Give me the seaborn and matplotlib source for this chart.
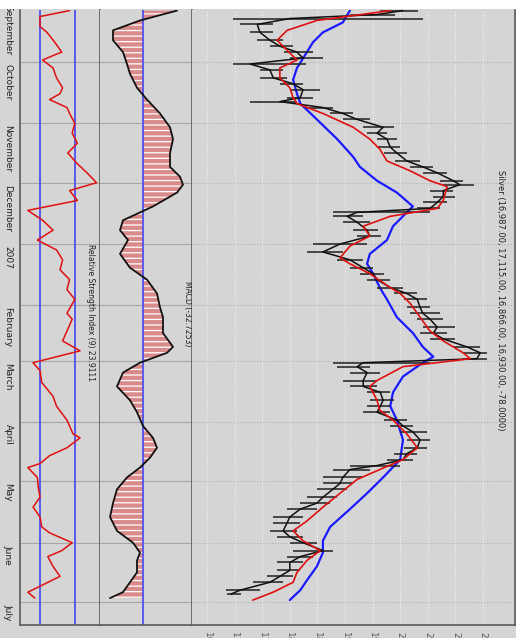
import pandas as pd
import seaborn as sns
import matplotlib.pyplot as plt
import matplotlib.dates as mdates
import matplotlib.transforms as mtransforms
from matplotlib.patches import Rectangle
from matplotlib.ticker import FixedLocator, MultipleLocator, NullFormatter

"""数据：天数 = 2006-09-01 之后的天数"""
START = pd.Timestamp("2006-09-01")

close_day = [4, 6, 8, 11, 15, 19, 22, 25, 28, 31, 34, 38, 41, 44, 48, 50, 53, 56, 59, 63,
             66, 69, 73, 76, 80, 83, 86, 90, 92, 95, 98, 101, 104, 106, 108, 111, 115, 118, 122, 126,
             130, 134, 137, 140, 144, 147, 150, 154, 157, 160, 164, 167, 170, 174, 177, 180, 182, 184, 187, 191,
             194, 197, 201, 204, 207, 211, 214, 217, 221, 225, 228, 231, 234, 236, 240, 243, 246, 250, 253, 256,
             260, 263, 267, 270, 273, 277, 280, 283, 287, 290, 293, 297, 299]
close_val = [20050, 19580, 18000, 17410, 17460, 17640, 17820, 18130, 18240, 17280,
             17640, 17700, 18060, 18240, 18190, 17820, 18600, 18960, 19220, 19690,
             19580, 19760, 19820, 19940, 20120, 20410, 20670, 20960, 21080, 20780,
             20780, 20670, 20540, 19220, 19040, 19220, 19400, 19450, 18910, 18600,
             19090, 19330, 19510, 19580, 19820, 20120, 20310, 20360, 20410, 20540,
             20670, 20600, 20780, 21210, 21450, 21390, 19330, 19220, 19400, 19330,
             19330, 19640, 19690, 19640, 19580, 19940, 20050, 20230, 20360, 20310,
             20120, 20050, 19580, 19090, 18960, 18910, 18780, 18600, 18490, 18190,
             18000, 17950, 17880, 18000, 18240, 18600, 18190, 18000, 18000, 17820,
             17640, 17100, 16930]
high_val = [20330, 19900, 20420, 17700, 17700, 17880, 18060, 18420, 18600, 18300,
            17880, 17950, 18240, 18550, 18420, 18130, 18780, 19150, 19450, 19880,
            19760, 19940, 20000, 20120, 20360, 20600, 20850, 21140, 21330, 20960,
            21000, 20850, 20720, 20540, 19330, 19450, 19600, 19650, 19400, 18960,
            19330, 19510, 19700, 19820, 20050, 20300, 20480, 20540, 20720, 20780,
            21000, 20850, 21000, 21450, 21570, 21570, 20540, 19450, 19640, 19580,
            19580, 19820, 19880, 19820, 19820, 20120, 20240, 20480, 20540, 20480,
            20300, 20240, 20000, 19450, 19330, 19150, 19040, 18850, 18720, 18490,
            18240, 18180, 18130, 18240, 18490, 18780, 18420, 18240, 18180, 18060,
            17880, 17460, 17115]
low_val = [19640, 19090, 16970, 17100, 17280, 17410, 17640, 17900, 18000, 16970,
           17460, 17460, 17820, 18000, 17950, 17280, 18310, 18730, 18960, 19330,
           19390, 19580, 19580, 19700, 19900, 20180, 20420, 20720, 20780, 20540,
           20600, 20420, 20300, 18780, 18780, 18960, 19150, 19220, 18420, 18310,
           18850, 19090, 19270, 19390, 19580, 19880, 20060, 20120, 20180, 20300,
           20420, 20360, 20540, 20960, 21140, 21140, 18780, 18850, 19090, 18960,
           19090, 19390, 19450, 19390, 19330, 19700, 19820, 20000, 20120, 20060,
           19880, 19760, 19090, 18780, 18600, 18600, 18490, 18310, 18180, 17950,
           17700, 17700, 17640, 17760, 18000, 18060, 17950, 17770, 17760, 17580,
           17340, 16850, 16866]

red_day = [4, 9, 14, 19, 24, 29, 33, 38, 43, 48, 51, 56, 63, 69, 74, 80, 85, 90, 93, 100,
           104, 108, 113, 118, 123, 129, 132, 137, 144, 147, 152, 159, 166, 171, 177, 180, 184, 191, 194, 201,
           206, 211, 218, 225, 231, 236, 241, 248, 255, 262, 267, 272, 277, 282, 288, 293, 298, 302]
red_val = [19820, 18490, 17950, 17770, 17950, 18130, 17820, 17820, 18000, 18060,
           18130, 18600, 19150, 19450, 19630, 19760, 20180, 20540, 20850, 20780,
           20670, 19820, 19330, 19450, 19090, 18910, 19090, 19450, 19820, 20000,
           20180, 20360, 20540, 20780, 21140, 21270, 20050, 19580, 19450, 19580,
           19630, 19870, 20120, 20310, 20050, 19630, 19220, 18910, 18600, 18310,
           18060, 18240, 18550, 18310, 18130, 18060, 17700, 17330]

blue_day = [4, 10, 15, 20, 25, 33, 39, 46, 51, 59, 69, 78, 83, 90, 96, 103, 106, 113, 120, 127,
            132, 137, 144, 150, 159, 167, 174, 179, 182, 189, 197, 204, 211, 221, 231, 240, 248, 256, 265, 272,
            278, 285, 292, 297, 302]
blue_val = [19090, 18960, 18600, 18420, 18310, 18130, 18060, 18130, 18190, 18490,
            18860, 19150, 19270, 19580, 19940, 20230, 20120, 19870, 19760, 19450,
            19400, 19510, 19630, 19760, 19940, 20230, 20410, 20600, 20410, 20050,
            19870, 19820, 19940, 20050, 20000, 19690, 19400, 19090, 18730, 18600,
            18600, 18490, 18310, 18190, 18000]

rsi_day = [4, 7, 12, 15, 20, 25, 26, 29, 33, 38, 43, 46, 49, 53, 56, 61, 66, 71, 76, 81,
           86, 91, 95, 100, 105, 110, 115, 120, 125, 130, 135, 140, 145, 150, 157, 160, 166, 171, 176, 182,
           186, 192, 199, 204, 211, 218, 220, 225, 229, 233, 235, 240, 245, 250, 255, 260, 265, 268, 273, 277,
           280, 285, 290, 295, 298, 301]
rsi_val = [64, 30, 30, 38, 47, 55, 49, 33, 45, 49, 56, 53, 41, 61, 64, 70, 67, 73, 62, 72,
           84, 95, 64, 73, 16, 33, 45, 27, 49, 56, 53, 64, 61, 70, 61, 67, 61, 56, 76, 22,
           30, 32, 45, 49, 61, 68, 76, 61, 41, 30, 16, 27, 28, 30, 22, 30, 32, 41, 67, 55,
           39, 45, 53, 30, 16, 24]

macd_day = [4, 9, 14, 19, 25, 31, 36, 43, 49, 56, 63, 69, 76, 83, 88, 92, 96, 103, 110, 115,
            120, 127, 134, 140, 147, 154, 159, 167, 174, 177, 182, 187, 194, 201, 207, 214, 220, 225, 230, 235,
            240, 246, 253, 260, 267, 273, 278, 282, 288, 293, 298, 301]
macd_val = [34, -3, -30, -30, -20, -16, -13, -6, 4, 17, 27, 30, 27, 27, 37, 40, 34, 10, -20, -23,
            -15, -23, -13, 4, 14, 17, 20, 20, 30, 24, -3, -20, -26, -13, -6, 0, 10, 14, 7, -3,
            -16, -26, -30, -33, -26, -10, -3, -6, -6, -13, -20, -33]

month_names = ["September", "October", "November", "December", "2007", "February",
               "March", "April", "May", "June", "July"]
price_ticks = [16500, 17000, 17500, 18000, 18500, 19000, 19500, 20000, 20500, 21000, 21500]
price_labels = ["16,500", "17,000", "17,500", "18,000", "18,500", "19,000",
                "19,500", "20,000", "20,500", "21,000", "21,500"]

title_price = "Silver (16,987.00, 17,115.00, 16,866.00, 16,930.00, -78.0000)"
title_rsi = "Relative Strength Index (9) 23.9111"
title_macd = "MACD (-32.7253)"


def to_dates(days):
    return START + pd.to_timedelta(days, unit="D")


price_df = pd.DataFrame({"date": to_dates(close_day), "v": close_val,
                         "hi": high_val, "lo": low_val})
red_df = pd.DataFrame({"date": to_dates(red_day), "v": red_val})
blue_df = pd.DataFrame({"date": to_dates(blue_day), "v": blue_val})
rsi_df = pd.DataFrame({"date": to_dates(rsi_day), "v": rsi_val})
macd_df = pd.DataFrame({"date": to_dates(macd_day), "v": macd_val})

"""画布"""
sns.set_style("white")
plt.rcParams["font.family"] = ["DejaVu Sans"]
plt.rcParams["hatch.color"] = "white"
plt.rcParams["hatch.linewidth"] = 0.9

BG = "#d5d5d5"
W, H = 519, 638
fig = plt.figure(figsize=(W / 100, H / 100), dpi=100, facecolor=BG)


def px_axes(x0, x1, y0=10, y1=625, share=None):
    return fig.add_axes([x0 / W, 1 - y1 / H, (x1 - x0) / W, (y1 - y0) / H], sharey=share)


ax_rsi = px_axes(20, 100)
ax_macd = px_axes(100, 192, share=ax_rsi)
ax_px = px_axes(192, 515, share=ax_rsi)

d_top = START + pd.Timedelta(days=3.7)
d_bot = START + pd.Timedelta(days=314.6)

"""RSI 面板"""
ax_rsi.axvline(30, color="#5050ee", lw=1.3, zorder=2)
ax_rsi.axvline(70, color="#5050ee", lw=1.3, zorder=2)
sns.lineplot(data=rsi_df, x="v", y="date", orient="y", estimator=None, sort=True,
             color="#e01010", lw=1.1, ax=ax_rsi, zorder=3)
ax_rsi.set_xlim(7, 99)
ax_rsi.text(0.875, 0.62, title_rsi, transform=ax_rsi.transAxes, rotation=-90,
            ha="center", va="top", fontsize=5.5, color="#202020")

"""MACD 面板"""
ax_macd.fill_betweenx(macd_df["date"], 0, macd_df["v"], facecolor="#d98a8a",
                      edgecolor="white", hatch="---", lw=0, zorder=1)
ax_macd.axvline(0, color="#5050ee", lw=1.3, zorder=2)
sns.lineplot(data=macd_df, x="v", y="date", orient="y", estimator=None, sort=True,
             color="#111111", lw=1.3, ax=ax_macd, zorder=3)
ax_macd.set_xlim(-43, 49)
ax_macd.text(0.946, 0.56, title_macd, transform=ax_macd.transAxes, rotation=-90,
             ha="center", va="top", fontsize=5.5, color="#202020")

"""价格面板"""
sns.lineplot(data=blue_df, x="v", y="date", orient="y", estimator=None, sort=True,
             color="#1a1aff", lw=1.6, ax=ax_px, zorder=3)
ax_px.hlines(price_df["date"], price_df["lo"], price_df["hi"], color="#202020", lw=1.1, zorder=4)
sns.lineplot(data=price_df, x="v", y="date", orient="y", estimator=None, sort=True,
             color="#101010", lw=1.1, ax=ax_px, zorder=4)
sns.lineplot(data=red_df, x="v", y="date", orient="y", estimator=None, sort=True,
             color="#e01010", lw=1.2, ax=ax_px, zorder=5)
ax_px.set_xlim(16228, 22080)
ax_px.text(0.954, 0.74, title_price, transform=ax_px.transAxes, rotation=-90,
           ha="center", va="top", fontsize=6, color="#202020")

"""坐标轴样式"""
for ax in (ax_rsi, ax_macd, ax_px):
    ax.set_facecolor(BG)
    ax.set_ylim(d_bot, d_top)
    ax.set_xlabel("")
    ax.set_ylabel("")
    ax.yaxis.set_major_locator(mdates.MonthLocator())
    ax.yaxis.set_minor_locator(mdates.WeekdayLocator(byweekday=mdates.MO))
    ax.yaxis.set_major_formatter(NullFormatter())
    ax.yaxis.set_minor_formatter(NullFormatter())
    ax.spines["top"].set_visible(False)
    for s in ("left", "right", "bottom"):
        ax.spines[s].set_color("#5a5a5a")
        ax.spines[s].set_linewidth(1.2)
    ax.tick_params(axis="x", which="both", direction="out", colors="#5a5a5a",
                   labelsize=6.5, labelrotation=-90, pad=2)
    ax.tick_params(axis="x", which="major", length=3)
    ax.tick_params(axis="x", which="minor", length=1.5)

for ax in (ax_rsi, ax_macd):
    ax.xaxis.set_major_locator(MultipleLocator(10))
    ax.xaxis.set_minor_locator(MultipleLocator(5))
    ax.xaxis.set_major_formatter(NullFormatter())
    ax.yaxis.grid(True, which="major", color="#a6a6a6", lw=0.8)

ax_rsi.tick_params(axis="y", which="major", direction="out", length=5, colors="#5a5a5a")
ax_rsi.tick_params(axis="y", which="minor", direction="out", length=2.5, colors="#5a5a5a")
for ax in (ax_macd, ax_px):
    ax.tick_params(axis="y", which="both", length=0)
    ax.spines["left"].set_visible(False)

ax_px.xaxis.set_major_locator(FixedLocator(price_ticks))
ax_px.set_xticklabels(price_labels)
ax_px.xaxis.set_minor_locator(MultipleLocator(100))
ax_px.xaxis.grid(True, which="major", color="#f2f2f2", lw=0.8, ls=":")
ax_px.yaxis.grid(True, which="major", color="#b0b0b0", lw=0.8, ls=":")

"""月份标签"""
trans = mtransforms.blended_transform_factory(fig.transFigure, ax_rsi.transData)
month_starts = pd.date_range("2006-09-01", periods=len(month_names), freq="MS")
for d, name in zip(month_starts, month_names):
    ax_rsi.text(8 / W, d + pd.Timedelta(days=1), name, transform=trans, rotation=-90,
                ha="center", va="top", fontsize=6.5, color="#202020", clip_on=False)

"""顶部和右侧白边"""
fig.add_artist(Rectangle((0, 1 - 9 / H), 1, 9 / H, transform=fig.transFigure,
                         facecolor="white", edgecolor="none", zorder=10))
fig.add_artist(Rectangle((516 / W, 0), 3 / W, 1, transform=fig.transFigure,
                         facecolor="white", edgecolor="none", zorder=10))

fig.savefig("out.png", dpi=100, facecolor=BG)
